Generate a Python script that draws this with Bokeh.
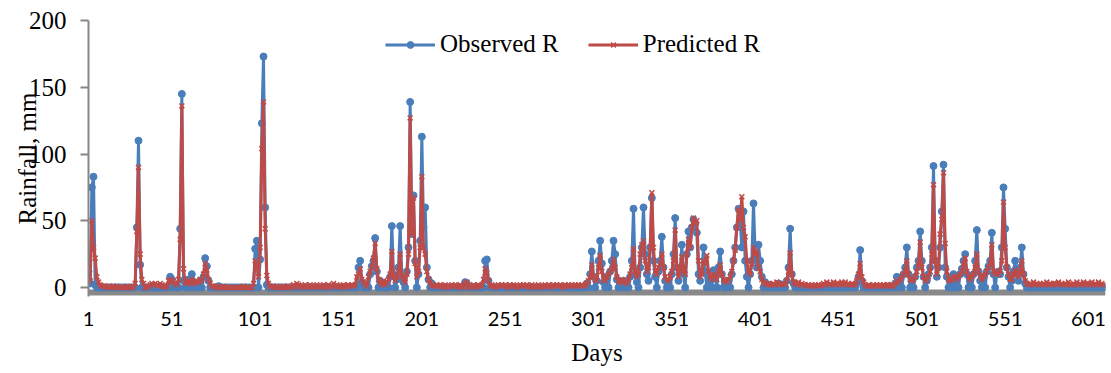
from bokeh.plotting import figure
from bokeh.models import FixedTicker, BoxAnnotation, Legend, LegendItem, Range1d
from bokeh.embed import file_html
from bokeh.resources import INLINE

# ---------------- data ----------------
n_days = 610
x_ticks = [1, 51, 101, 151, 201, 251, 301, 351, 401, 451, 501, 551, 601]
y_ticks = [0, 50, 100, 150, 200]

obs_days = [1, 2, 3, 4, 5,
            30, 31, 32,
            50, 51, 53, 56, 57, 58, 60, 61, 63, 64, 66, 68, 70, 71, 72, 73, 79,
            101, 102, 104, 105, 106, 107, 108,
            163, 164, 165, 170, 171, 172, 173, 174, 176, 178, 182, 183, 184, 186, 187, 188, 189, 190,
            192, 193, 194, 195, 196, 197, 199, 200, 201, 202, 203, 204, 205, 207,
            227, 228, 239, 240, 241,
            300, 302, 303, 304, 306, 307, 308, 309, 310, 312, 314, 315, 316, 317, 318, 320, 322, 324,
            326, 327, 328, 329, 330, 332, 333, 334, 335, 336, 337, 338, 339, 340, 341, 343, 344, 345,
            346, 347, 349, 351, 352, 353, 354, 355, 356, 357, 358, 360, 361, 362, 363, 364, 365, 366,
            367, 368, 369, 370, 371, 373, 374, 376, 377, 379, 380, 381, 383, 385, 387, 388, 389, 390,
            391, 392, 393, 394, 395, 396, 398, 399, 400, 401, 402, 403, 404, 405, 407, 410, 415, 420,
            421, 422, 423, 424,
            462, 463, 464, 465,
            485, 486, 488, 490, 491, 492, 493, 495, 497, 498, 499, 500, 501, 502, 504, 505, 506, 507,
            508, 509, 510, 511, 512, 513, 514, 515, 516, 518, 520, 522, 524, 525, 526, 527, 528, 530,
            532, 533, 534, 535, 536, 538, 540, 541, 542, 543, 544, 546, 547, 548, 549, 550, 551, 552,
            553, 555, 556, 557, 558, 559, 560, 561, 562, 563]
obs_vals = [12, 3, 75, 83, 2,
            45, 110, 17,
            8, 6, 2, 44, 145, 5, 5, 6, 10, 4, 3, 5, 8, 22, 16, 5, 1,
            29, 35, 21, 123, 173, 60, 2,
            15, 20, 4, 10, 16, 20, 37, 12, 5, 3, 8, 46, 10, 6, 15, 46, 8, 4,
            12, 30, 139, 40, 69, 20, 10, 35, 113, 45, 60, 15, 6, 3,
            4, 3, 20, 21, 5,
            3, 10, 27, 8, 5, 20, 35, 18, 4, 8, 12, 20, 35, 25, 6, 3, 5, 3,
            8, 20, 59, 10, 4, 15, 30, 60, 25, 10, 5, 30, 67, 20, 8, 12, 20, 38,
            15, 5, 3, 10, 25, 52, 15, 5, 12, 32, 10, 25, 42, 30, 45, 51, 48, 41,
            10, 5, 12, 30, 12, 8, 5, 13, 8, 15, 27, 10, 3, 5, 10, 20, 30, 45,
            59, 50, 30, 57, 20, 8, 10, 20, 63, 25, 15, 32, 20, 8, 4, 2, 3, 5,
            15, 44, 10, 3,
            3, 8, 28, 5,
            3, 8, 5, 10, 15, 30, 10, 5, 8, 15, 20, 42, 20, 8, 5, 10, 15, 30,
            91, 20, 8, 15, 30, 57, 92, 15, 8, 5, 10, 8, 10, 14, 20, 25, 10, 5,
            10, 20, 43, 12, 5, 8, 12, 16, 20, 41, 10, 10, 12, 10, 30, 75, 44, 15,
            8, 5, 12, 20, 10, 5, 15, 30, 10, 3]

pred_days = [1, 2, 3, 4, 5, 6, 7,
             29, 30, 31, 32, 33, 34,
             49, 50, 51, 52, 53, 55, 56, 57, 58, 59, 60, 61, 62, 63, 64, 65, 66, 67, 68, 69, 70,
             71, 72, 73, 74,
             100, 101, 102, 103, 104, 105, 106, 107, 108, 109,
             162, 163, 164, 165, 166, 169, 170, 171, 172, 173, 174, 175, 176, 178, 180, 181, 182,
             183, 184, 185, 186, 187, 188, 189, 190, 191, 192, 193, 194, 195, 196, 197, 198, 199,
             200, 201, 202, 203, 204, 205, 206,
             227, 228, 238, 239, 240, 241,
             301, 302, 303, 304, 305, 306, 307, 308, 309, 310, 311, 312, 313, 314, 315, 316, 317,
             318, 319, 320, 321, 322, 323, 325, 326, 327, 328, 329, 330, 331, 332, 333, 334, 335,
             336, 337, 338, 339, 340, 341, 342, 343, 344, 345, 346, 347, 348, 349, 350, 351, 352,
             353, 354, 355, 356, 357, 358, 359, 360, 361, 362, 363, 364, 365, 366, 367, 368, 369,
             370, 371, 372, 373, 374, 375, 376, 377, 378, 379, 380, 381, 382, 383, 384, 385, 386,
             387, 388, 389, 390, 391, 392, 393, 394, 395, 396, 397, 398, 399, 400, 401, 402, 403,
             404, 405, 406, 420, 421, 422, 423, 424,
             462, 463, 464, 465, 466,
             486, 487, 488, 489, 490, 491, 492, 493, 494, 495, 496, 497, 498, 499, 500, 501, 502,
             503, 504, 505, 506, 507, 508, 509, 510, 511, 512, 513, 514, 515, 516, 517, 518, 519,
             520, 521, 522, 523, 524, 525, 526, 527, 528, 529, 530, 531, 532, 533, 534, 535, 536,
             537, 538, 539, 540, 541, 542, 543, 544, 545, 546, 547, 548, 549, 550, 551, 552, 553,
             554, 555, 556, 557, 558, 559, 560, 561, 562, 563]
pred_vals = [8, 5, 50, 30, 22, 8, 4,
             3, 42, 90, 25, 6, 3,
             5, 6, 4, 5, 3, 6, 36, 136, 14, 4, 3, 5, 3, 6, 4, 3, 5, 4, 6, 5, 10,
             18, 13, 6, 3,
             3, 20, 17, 8, 30, 104, 139, 44, 9, 3,
             8, 10, 14, 6, 4, 8, 12, 15, 22, 33, 14, 6, 4, 5, 4, 6, 10,
             27, 8, 5, 8, 12, 25, 8, 6, 4, 10, 25, 127, 40, 67, 18, 8, 12,
             30, 83, 30, 25, 12, 6, 4,
             3, 4, 6, 14, 11, 5,
             5, 8, 17, 8, 6, 5, 15, 24, 12, 6, 5, 8, 10, 12, 14, 21, 15,
             8, 5, 4, 6, 5, 4, 6, 10, 15, 29, 12, 8, 10, 25, 32, 35, 20,
             12, 15, 30, 71, 30, 12, 10, 15, 18, 25, 15, 8, 6, 5, 8, 12, 20,
             43, 15, 8, 14, 23, 12, 10, 25, 36, 30, 45, 52, 48, 50, 20, 8, 10,
             20, 18, 24, 12, 8, 6, 10, 8, 6, 12, 17, 10, 6, 5, 4, 6, 8,
             12, 20, 28, 45, 58, 50, 68, 45, 38, 20, 12, 10, 18, 30, 25, 27, 15,
             12, 6, 4, 5, 12, 26, 10, 4,
             5, 10, 18, 8, 4,
             5, 4, 6, 8, 10, 12, 20, 10, 6, 5, 6, 8, 12, 18, 34, 15, 8,
             5, 6, 8, 12, 25, 77, 20, 10, 15, 40, 51, 86, 33, 12, 6, 5, 6,
             8, 8, 6, 8, 10, 12, 18, 22, 12, 8, 6, 8, 10, 15, 25, 12, 8,
             6, 8, 10, 12, 15, 18, 32, 12, 10, 12, 10, 12, 20, 64, 30, 15, 10,
             6, 6, 10, 13, 10, 8, 12, 20, 10, 5]

# small day-to-day predicted values between events (one digit per day, days 1..610)
pred_base = ("0000000211" "1010010100" "0001000100" "0000001232" "3213210120"
             "1212121212" "2323232323" "1212110100" "0100000000" "0001000000"
             "0000000001" "0101000100" "1012032101" "2102101210" "1201210312"
             "1012102121" "2123123123" "2312312323" "2323232323" "3232323232"
             "2323121212" "1201210121" "2102101210" "1210212101" "2121012121"
             "2102121012" "1212012101" "2101212012" "1212102121" "2121212123"
             "3232323232" "2323232323" "3243234232" "2323232323" "3232323232"
             "2323232323" "3232323232" "2323232323" "3232323232" "2323232323"
             "3232323232" "2324232323" "3232324232" "2121212121" "2324232423"
             "3242423232" "2323232121" "1212121212" "2121323232" "3232323232"
             "2323232323" "3232323232" "2323232323" "3232323232" "2323232323"
             "3232323232" "2323232423" "2323242323" "3242323242" "2324232423"
             "3242324232")

days = list(range(1, n_days + 1))
observed = [0] * n_days
for d, v in zip(obs_days, obs_vals):
    observed[d - 1] = v
predicted = [int(c) for c in pred_base]
for d, v in zip(pred_days, pred_vals):
    predicted[d - 1] = v

# ---------------- figure ----------------
BLUE = "#4a7ebb"
RED = "#be4b48"
SERIF = "Liberation Serif"

p = figure(width=1108, height=370, output_backend="svg", toolbar_location=None,
           x_range=Range1d(1, 611.2), y_range=Range1d(-6.74, 200))
p.min_border_left = 88
p.min_border_right = 3
p.min_border_top = 20
p.min_border_bottom = 74
p.outline_line_color = None
p.xgrid.visible = False
p.ygrid.visible = False
p.background_fill_color = "white"

# grey base band under the zero line
p.add_layout(BoxAnnotation(bottom=-6.0, top=-1.5, fill_color="#898989", fill_alpha=1.0,
                           line_color=None, level="underlay"))

l1 = p.line(days, observed, line_color=BLUE, line_width=3)
s1 = p.scatter(days, observed, marker="circle", size=7, fill_color=BLUE, line_color=BLUE)
l2 = p.line(days, predicted, line_color=RED, line_width=3)
s2 = p.scatter(days, predicted, marker="x", size=7, line_color=RED, line_width=1.6)

# axes
xa = p.xaxis[0]
xa.ticker = FixedTicker(ticks=x_ticks)
xa.axis_line_color = None
xa.major_tick_line_color = None
xa.minor_tick_line_color = None
xa.major_label_text_font = "Lato"
xa.major_label_text_font_size = "20px"
xa.major_label_text_color = "black"
xa.major_label_standoff = 9
xa.axis_label = "Days"
xa.axis_label_text_font = SERIF
xa.axis_label_text_font_size = "25px"
xa.axis_label_text_font_style = "normal"
xa.axis_label_text_color = "black"
xa.axis_label_standoff = 10

ya = p.yaxis[0]
ya.ticker = FixedTicker(ticks=y_ticks)
ya.axis_line_color = "#868686"
ya.axis_line_width = 2
ya.major_tick_line_color = "#868686"
ya.major_tick_line_width = 2
ya.major_tick_out = 8
ya.major_tick_in = 0
ya.minor_tick_line_color = None
ya.major_label_text_font = SERIF
ya.major_label_text_font_size = "25px"
ya.major_label_text_color = "black"
ya.major_label_standoff = 14
ya.axis_label = "Rainfall, mm"
ya.axis_label_text_font = SERIF
ya.axis_label_text_font_size = "25px"
ya.axis_label_text_font_style = "normal"
ya.axis_label_text_color = "black"
ya.axis_label_standoff = -15

legend = Legend(items=[LegendItem(label="Observed R", renderers=[l1, s1]),
                       LegendItem(label="Predicted R", renderers=[l2, s2])],
                orientation="horizontal", location=(297, 237),
                glyph_width=50, glyph_height=17, label_height=30, label_standoff=5,
                spacing=29, padding=0, margin=0, border_line_color=None,
                background_fill_alpha=0, label_text_font=SERIF,
                label_text_font_size="25px", label_text_color="black")
p.add_layout(legend)

open("out.html", "w").write(file_html(p, INLINE))
